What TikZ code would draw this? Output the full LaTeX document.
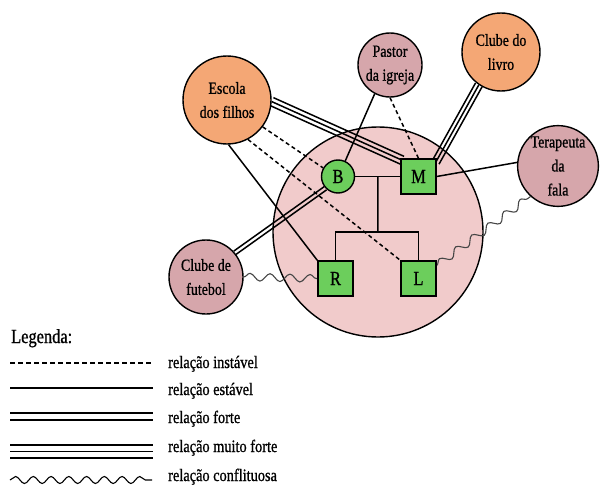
\documentclass[tikz,border=0pt]{standalone}
\usepackage{fontspec}
\setmainfont{Liberation Serif}[FakeStretch=0.82,FakeBold=0.9]
\usetikzlibrary{calc,decorations.pathmorphing}
\pgfdeclarelayer{bg}
\pgfdeclarelayer{links}
\pgfsetlayers{bg,links,main}

\definecolor{extOrange}{RGB}{244,167,117}
\definecolor{extMauve}{RGB}{214,166,171}
\definecolor{homePink}{RGB}{241,203,203}
\definecolor{memberGreen}{RGB}{108,206,92}
\definecolor{waveGrey}{RGB}{70,70,70}

% three parallel strokes between two points
\newcommand\tripleLink[3][4pt]{%
  \draw[link] ($(#2)!#1!90:(#3)$) -- ($(#3)!#1!-90:(#2)$);
  \draw[link] (#2) -- (#3);
  \draw[link] ($(#2)!#1!-90:(#3)$) -- ($(#3)!#1!90:(#2)$);}
% two parallel strokes between two points
\newcommand\doubleLink[3][2pt]{%
  \draw[link] ($(#2)!#1!90:(#3)$) -- ($(#3)!#1!-90:(#2)$);
  \draw[link] ($(#2)!#1!-90:(#3)$) -- ($(#3)!#1!90:(#2)$);}

\begin{document}
\begin{tikzpicture}[x=1pt,y=-1pt,
  ext/.style={circle,draw=black,line width=1.4pt,inner sep=0pt,align=center,
    font=\fontsize{17}{24}\selectfont},
  member/.style={draw=black,line width=1.4pt,fill=memberGreen,inner sep=0pt,
    font=\fontsize{20}{24}\selectfont},
  link/.style={draw=black,line width=1.5pt},
  unstable/.style={link,dash pattern=on 4pt off 3pt},
  conflict/.style={draw=waveGrey,line width=1.1pt,decorate,
    decoration={snake,segment length=20pt,amplitude=3.8pt}},
  legline/.style={draw=black,line width=1.7pt},
  legtext/.style={anchor=base west,inner sep=0pt,font=\fontsize{17.5}{20}\selectfont}]

\useasboundingbox (0,0) rectangle (600,495);

% household
\begin{pgfonlayer}{bg}
  \node[circle,draw=black,line width=1.4pt,fill=homePink,minimum size=210pt] (home) at (378,232) {};
\end{pgfonlayer}

% family members
\node[member,circle,minimum size=33pt] (B) at (338,176.5) {B};
\node[member,minimum size=35pt] (M) at (418.5,176.5) {M};
\node[member,minimum size=35pt] (R) at (335.5,278.5) {R};
\node[member,minimum size=35pt] (L) at (418.5,278.5) {L};

% outside systems
\node[ext,fill=extOrange,minimum size=88pt] (esc) at (227,100) {Escola\\dos filhos};
\node[ext,fill=extMauve,minimum size=64pt] (pastor) at (390,65) {Pastor\\da igreja};
\node[ext,fill=extOrange,minimum size=78pt] (livro) at (501,52) {Clube do\\livro};
\node[ext,fill=extMauve,minimum size=76pt] (tera) at (558,166) {Terapeuta\\da\\fala};
\node[ext,fill=extMauve,minimum size=74pt] (fut) at (206,277) {Clube de\\futebol};

% family tree
\coordinate (fork) at ($(B.east)!0.5!(M.west)$);
\coordinate (kids) at (378,232);
\draw[link] (B.east) -- (M.west);
\draw[link] (fork) -- (kids);
\draw[link] (R.north) |- (kids) -| (L.north);

% ties to the outside
\begin{pgfonlayer}{links}
  \coordinate (mTL) at ([shift={(2,2)}]M.north west);
  \coordinate (mTR) at ([shift={(-1,4)}]M.north east);
  \coordinate (lUp) at ([shift={(0,-13)}]L.east);
  \draw[link] (esc.-88) -- (R.north west);
  \draw[unstable] (esc.-62) -- (L.north west);
  \draw[unstable] (esc.-37) -- (B.150);
  \tripleLink[4.3pt]{esc.-2}{mTL}
  \draw[link] (pastor.-118) -- (B.65);
  \draw[unstable] (pastor.south) -- (M.north);
  \tripleLink[3.8pt]{livro.-124}{mTR}
  \draw[link] (M.east) -- (tera.175);
  \draw[conflict] (lUp) -- (tera.228);
  \doubleLink{fut.40}{B.223}
  \draw[conflict] (fut.east) -- (R.west);
\end{pgfonlayer}

% key
\node[anchor=base west,inner sep=0pt,font=\fontsize{20}{24}\selectfont] (legtitle) at (11,343) {Legenda:};
\draw[legline,dash pattern=on 5pt off 3pt] (10,363) -- (153,363);
\node[legtext] (k1) at (168,368) {relação instável};
\draw[legline] (10,388) -- (153,388);
\node[legtext] (k2) at (168,395) {relação estável};
\draw[legline] (10,413) -- (153,413);
\draw[legline] (10,420) -- (153,420);
\node[legtext] (k3) at (168,423) {relação forte};
\draw[legline] (10,445) -- (153,445);
\draw[legline] (10,451.5) -- (153,451.5);
\draw[legline] (10,458) -- (153,458);
\node[legtext] (k4) at (168,452) {relação muito forte};
\draw[draw=black,line width=1.1pt,decorate,
  decoration={snake,segment length=17.75pt,amplitude=3.5pt}] (10,480) -- (152,480);
\node[legtext] (k5) at (168,481) {relação conflituosa};
\end{tikzpicture}
\end{document}
